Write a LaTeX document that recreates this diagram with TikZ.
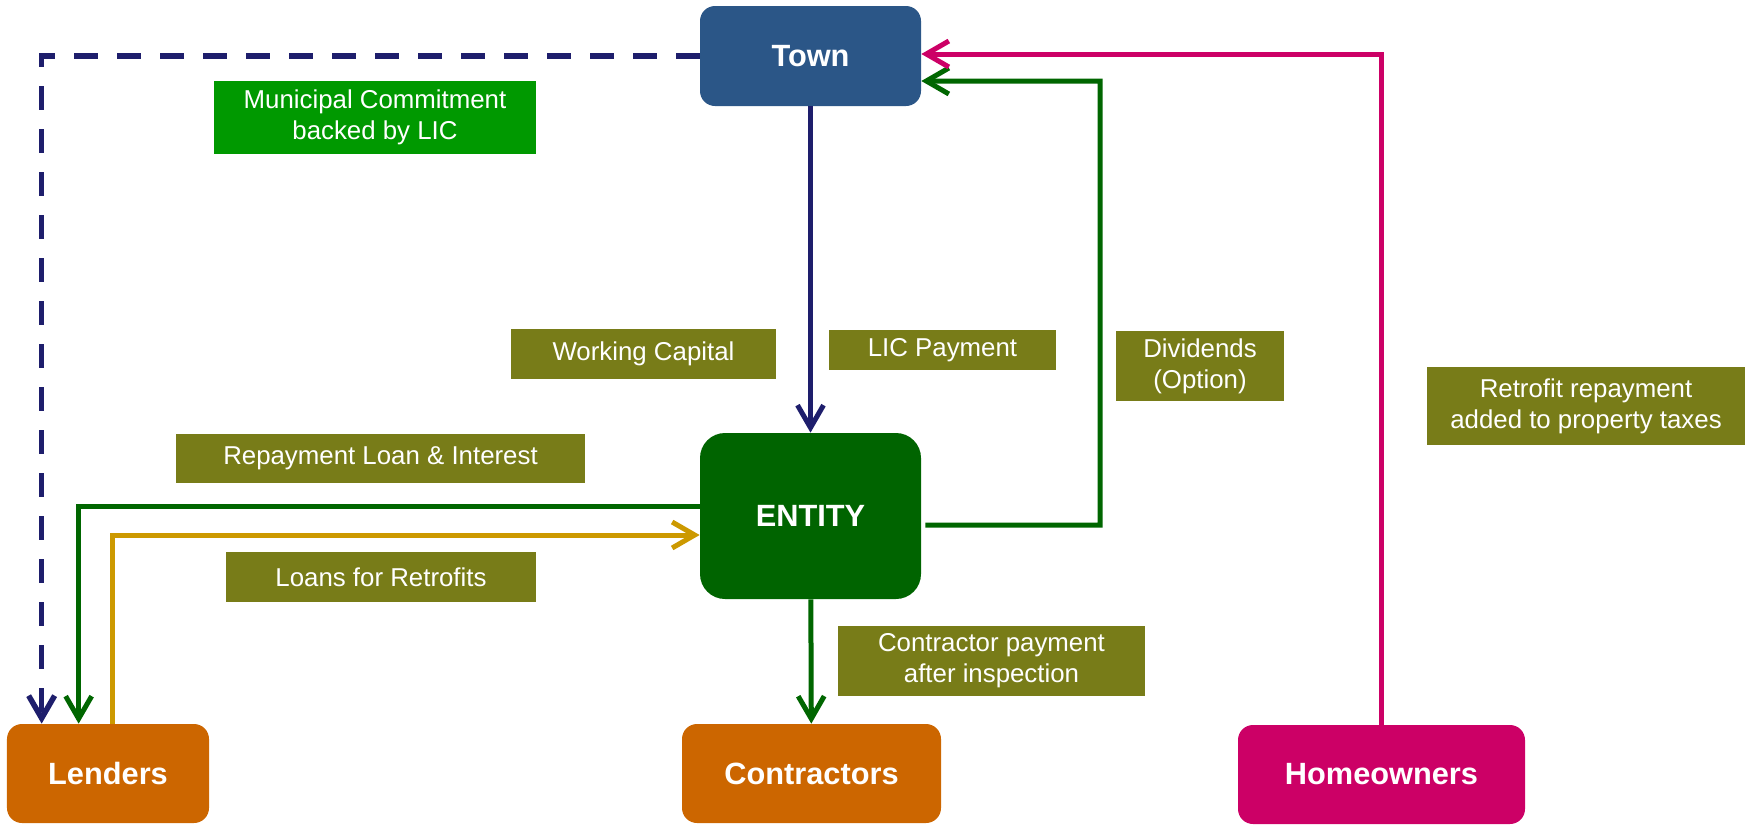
\documentclass[tikz,border=0pt]{standalone}
\usepackage{fontspec}
\setmainfont{Liberation Sans}
\usetikzlibrary{arrows.meta}
\definecolor{townblue}{RGB}{43,86,135}
\definecolor{entgreen}{RGB}{0,100,0}
\definecolor{partorange}{RGB}{204,102,0}
\definecolor{homepink}{RGB}{204,0,102}
\definecolor{tagolive}{RGB}{120,124,24}
\definecolor{tagbright}{RGB}{0,153,0}
\definecolor{linenavy}{RGB}{30,30,108}
\definecolor{linegold}{RGB}{204,153,0}
\definecolor{linegreen}{RGB}{0,102,0}
\begin{document}
\begin{tikzpicture}[x=0.2mm,y=-0.2mm]
    \tikzset{party/.style = {shape=rectangle,rounded corners=3mm,inner sep=0pt,text=white,
        font=\fontsize{17.5}{21}\selectfont\bfseries,minimum height=19.8mm}}
    \tikzset{tag/.style = {shape=rectangle,fill=tagolive,inner sep=0pt,text=white,align=center,
        font=\fontsize{14.7}{17.6}\selectfont}}
    \tikzset{flow/.style = {line width=1mm,-{Straight Barb[length=4.5mm,width=5.2mm]}}}
    \useasboundingbox (0,0) rectangle (1748,829);
    % parties
    \node[party,fill=townblue,minimum width=44.2mm,minimum height=20mm] (town) at (810.5,56) {Town};
    \node[party,fill=entgreen,rounded corners=5mm,minimum width=44.2mm,minimum height=33.2mm] (entity) at (810.5,516) {ENTITY};
    \node[party,fill=partorange,minimum width=40.4mm] (lenders) at (108,773.5) {Lenders};
    \node[party,fill=partorange,minimum width=51.8mm] (contractors) at (811.5,773.5) {Contractors};
    \node[party,fill=homepink,minimum width=57.4mm] (homeowners) at (1381.5,774.5) {Homeowners};
    % labels
    \node[tag,fill=tagbright,minimum width=64.4mm,minimum height=14.6mm] (munic) at (375,117.5) {Municipal Commitment\\backed by LIC};
    \node[tag,minimum width=53mm,minimum height=10mm] (capital) at (643.5,354) {Working Capital};
    \node[tag,minimum width=45.4mm,minimum height=8mm] (licpay) at (942.5,350) {LIC Payment};
    \node[tag,minimum width=33.6mm,minimum height=14mm] (divid) at (1200,366) {Dividends\\(Option)};
    \node[tag,minimum width=63.6mm,minimum height=15.6mm] (retro) at (1586,406) {Retrofit repayment\\added to property taxes};
    \node[tag,minimum width=81.8mm,minimum height=9.8mm] (repay) at (380.5,458.5) {Repayment Loan \& Interest};
    \node[tag,minimum width=62mm,minimum height=10mm] (loans) at (381,577) {Loans for Retrofits};
    \node[tag,minimum width=61.4mm,minimum height=14mm] (contpay) at (991.5,661) {Contractor payment\\after inspection};
    \coordinate (divturn) at (1100,81);
    % flows
    \draw[flow,linenavy,line width=1.1mm,dash pattern=on 4.8mm off 3.8mm] (town.west) -| ([xshift=7mm]lenders.north west);
    \draw[flow,linenavy] (town) -- (entity);
    \draw[flow,linegreen] ([yshift=2mm]entity.west) -| ([xshift=14.4mm]lenders.north west);
    \draw[flow,linegold] ([xshift=21.2mm]lenders.north west) |- ([yshift=-3.8mm]entity.west);
    \draw[flow,linegreen] (entity) -- (contractors);
    \draw[flow,linegreen] ([xshift=0.8mm,yshift=-1.8mm]entity.east) -| (divturn) -- ([yshift=-5mm]town.east);
    \draw[flow,homepink] (homeowners.north) |- ([yshift=0.4mm]town.east);
\end{tikzpicture}
\end{document}
